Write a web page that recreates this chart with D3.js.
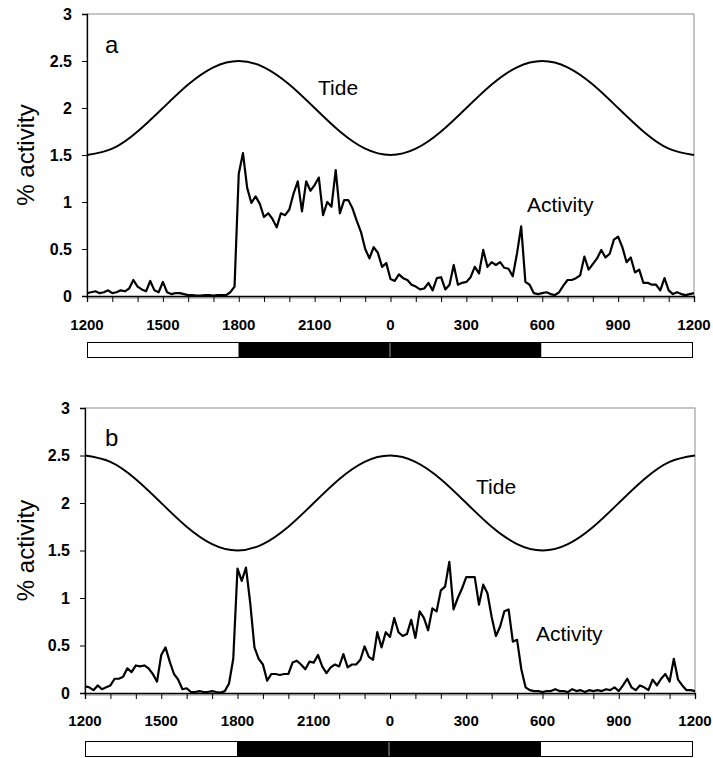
<!DOCTYPE html>
<html>
<head>
<meta charset="utf-8">
<script src="https://cdn.jsdelivr.net/npm/d3@7"></script>
<style>
  html, body { margin: 0; padding: 0; background: #fff; }
  svg { display: block; font-family: "Liberation Sans", Arial, sans-serif; }
</style>
</head>
<body>
<svg id="chart" width="713" height="758"></svg>
<script>
// ---- DATA ----
// hours after 1200 (0..24); activity sampled every 10 minutes
const hourTicks = d3.range(0, 25, 1);
const tickLabelHours = [0, 3, 6, 9, 12, 15, 18, 21, 24];
const tickLabels = ["1200", "1500", "1800", "2100", "0", "300", "600", "900", "1200"];
const yTicks = [0, 0.5, 1, 1.5, 2, 2.5, 3];
const yTickLabels = ["0", "0.5", "1", "1.5", "2", "2.5", "3"];

// tide curves (hourly readings)
const tideA = [1.5, 1.567, 1.75, 2.0, 2.25, 2.433, 2.5, 2.433, 2.25, 2.0, 1.75, 1.567, 1.5,
               1.567, 1.75, 2.0, 2.25, 2.433, 2.5, 2.433, 2.25, 2.0, 1.75, 1.567, 1.5];
const tideB = [2.5, 2.433, 2.25, 2.0, 1.75, 1.567, 1.5, 1.567, 1.75, 2.0, 2.25, 2.433, 2.5,
               2.433, 2.25, 2.0, 1.75, 1.567, 1.5, 1.567, 1.75, 2.0, 2.25, 2.433, 2.5];

const activityA = [
  0.03,0.04,0.05,0.03,0.04,0.06, 0.03,0.04,0.06,0.05,0.08,0.17,
  0.10,0.07,0.05,0.16,0.06,0.04, 0.15,0.04,0.02,0.03,0.03,0.02,
  0.01,0.01,0.005,0.005,0.01,0.01, 0.005,0.01,0.01,0.01,0.04,0.10,
  1.30,1.52,1.15,0.99,1.06,0.98, 0.84,0.88,0.82,0.73,0.88,0.86,
  0.92,1.09,1.22,0.90,1.22,1.12, 1.18,1.26,0.86,1.00,0.95,1.34,
  0.88,1.02,1.02,0.93,0.80,0.68, 0.50,0.40,0.52,0.46,0.31,0.35,
  0.18,0.16,0.23,0.19,0.17,0.12, 0.10,0.07,0.08,0.14,0.06,0.19,
  0.20,0.07,0.12,0.33,0.12,0.14, 0.15,0.20,0.31,0.24,0.49,0.31,
  0.36,0.33,0.36,0.30,0.29,0.21, 0.45,0.74,0.15,0.12,0.03,0.02,
  0.03,0.04,0.02,0.01,0.04,0.11, 0.17,0.17,0.19,0.22,0.42,0.28,
  0.34,0.40,0.49,0.41,0.45,0.60, 0.63,0.52,0.36,0.41,0.25,0.28,
  0.14,0.14,0.12,0.12,0.06,0.19, 0.06,0.02,0.04,0.02,0.01,0.02,
  0.03
];

const activityB = [
  0.07,0.06,0.03,0.08,0.04,0.06, 0.08,0.15,0.15,0.17,0.26,0.22,
  0.29,0.28,0.29,0.26,0.20,0.12, 0.40,0.48,0.33,0.20,0.14,0.04,
  0.05,0.01,0.01,0.02,0.01,0.01, 0.02,0.01,0.005,0.02,0.10,0.36,
  1.31,1.18,1.32,0.95,0.48,0.36, 0.30,0.13,0.20,0.20,0.19,0.20,
  0.20,0.32,0.34,0.30,0.25,0.33, 0.32,0.40,0.28,0.21,0.27,0.30,
  0.28,0.41,0.27,0.30,0.30,0.35, 0.49,0.38,0.35,0.64,0.48,0.64,
  0.59,0.79,0.64,0.60,0.62,0.77, 0.58,0.86,0.79,0.66,0.89,0.86,
  1.08,1.12,1.38,0.88,1.00,1.10, 1.22,1.22,1.22,0.93,1.14,1.05,
  0.80,0.60,0.70,0.86,0.88,0.54, 0.56,0.25,0.06,0.03,0.02,0.02,
  0.01,0.02,0.02,0.04,0.02,0.02, 0.01,0.04,0.02,0.03,0.01,0.03,
  0.02,0.03,0.02,0.04,0.03,0.06, 0.02,0.08,0.15,0.06,0.03,0.08,
  0.06,0.03,0.14,0.08,0.15,0.20, 0.12,0.36,0.14,0.08,0.03,0.03,
  0.02
];

// light (false) / dark (true) periods, in hours after 1200
const lightStart = [0, 6, 12, 18];
const lightEnd   = [6, 12, 18, 24];
const lightDark  = [false, true, true, false];

const panelNames = ["a", "b"];

// ---- LAYOUT ----
const panels = [
  { name: panelNames[0], act: activityA, tide: tideA,
    left: 87, right: 694, top: 14, bottom: 296, barTop: 342, barRight: 693, tickY: 330,
    nameX: 105, nameY: 53, tideX: 318, tideY: 95, actX: 527, actY: 212 },
  { name: panelNames[1], act: activityB, tide: tideB,
    left: 85, right: 695, top: 408, bottom: 693, barTop: 741, barRight: 693, tickY: 726,
    nameX: 105, nameY: 446, tideX: 476, tideY: 494, actX: 536, actY: 641 }
];

const svg = d3.select("#chart");

panels.forEach(p => {
  const x = d3.scaleLinear().domain([0, 24]).range([p.left, p.right]);
  const y = d3.scaleLinear().domain([0, 3]).range([p.bottom, p.top]);
  const g = svg.append("g");

  // plot frame (grey)
  g.append("rect")
    .attr("x", p.left).attr("y", p.top)
    .attr("width", p.right - p.left).attr("height", p.bottom - p.top + 2)
    .attr("fill", "none").attr("stroke", "#8c8c8c").attr("stroke-width", 1);

  // y axis
  const yAxis = d3.axisLeft(y).tickValues(yTicks)
    .tickFormat((d, i) => yTickLabels[i]).tickSize(5).tickPadding(10);
  const ya = g.append("g").attr("transform", `translate(${p.left},0)`).call(yAxis);
  ya.select(".domain").attr("stroke", "#000").attr("stroke-width", 1.3);
  ya.selectAll(".tick line").attr("stroke", "#000");
  ya.selectAll(".tick text").attr("font-size", 16).attr("font-weight", "bold")
    .attr("font-family", "Liberation Sans, Arial, sans-serif").attr("fill", "#000");

  // x axis
  const xAxis = d3.axisBottom(x).tickValues(hourTicks).tickSize(6).tickFormat("");
  const xa = g.append("g").attr("transform", `translate(0,${p.bottom})`).call(xAxis);
  xa.select(".domain").attr("stroke", "#000").attr("stroke-width", 1.3);
  xa.selectAll(".tick line").attr("stroke", "#000");

  g.selectAll(".xlab").data(tickLabelHours).enter().append("text")
    .attr("class", "xlab")
    .attr("x", d => x(d)).attr("y", p.tickY)
    .attr("text-anchor", "middle")
    .attr("font-size", 15).attr("font-weight", "bold")
    .text((d, i) => tickLabels[i]);

  // y label
  g.append("text")
    .attr("transform", `translate(34,${(p.top + p.bottom) / 2}) rotate(-90)`)
    .attr("text-anchor", "middle")
    .attr("font-size", 24)
    .text("% activity");

  // tide line
  const tideLine = d3.line().x((d, i) => x(i)).y(d => y(d)).curve(d3.curveNatural);
  g.append("path").datum(p.tide)
    .attr("d", tideLine).attr("fill", "none")
    .attr("stroke", "#000").attr("stroke-width", 1.9);

  // activity line
  const actLine = d3.line().x((d, i) => x(i / 6)).y(d => y(d));
  g.append("path").datum(p.act)
    .attr("d", actLine).attr("fill", "none")
    .attr("stroke", "#000").attr("stroke-width", 2.2).attr("stroke-linejoin", "round");

  // labels
  g.append("text").attr("x", p.nameX).attr("y", p.nameY)
    .attr("font-size", 24).text(p.name);
  g.append("text").attr("x", p.tideX).attr("y", p.tideY)
    .attr("font-size", 21).text("Tide");
  g.append("text").attr("x", p.actX).attr("y", p.actY)
    .attr("font-size", 21).text("Activity");

  // light/dark bar
  const xb = d3.scaleLinear().domain([0, 24]).range([p.left, p.barRight]);
  g.selectAll(".ld").data(lightStart).enter().append("rect")
    .attr("x", (d, i) => xb(d)).attr("y", p.barTop)
    .attr("width", (d, i) => xb(lightEnd[i]) - xb(d)).attr("height", 16)
    .attr("fill", (d, i) => lightDark[i] ? "#000" : "#fff");
  g.append("line")
    .attr("x1", xb(12)).attr("x2", xb(12))
    .attr("y1", p.barTop).attr("y2", p.barTop + 16)
    .attr("stroke", "#999").attr("stroke-width", 1);
  g.append("rect")
    .attr("x", p.left + 0.5).attr("y", p.barTop + 0.5)
    .attr("width", p.barRight - p.left - 1).attr("height", 15)
    .attr("fill", "none").attr("stroke", "#000").attr("stroke-width", 1);
});
</script>
</body>
</html>
